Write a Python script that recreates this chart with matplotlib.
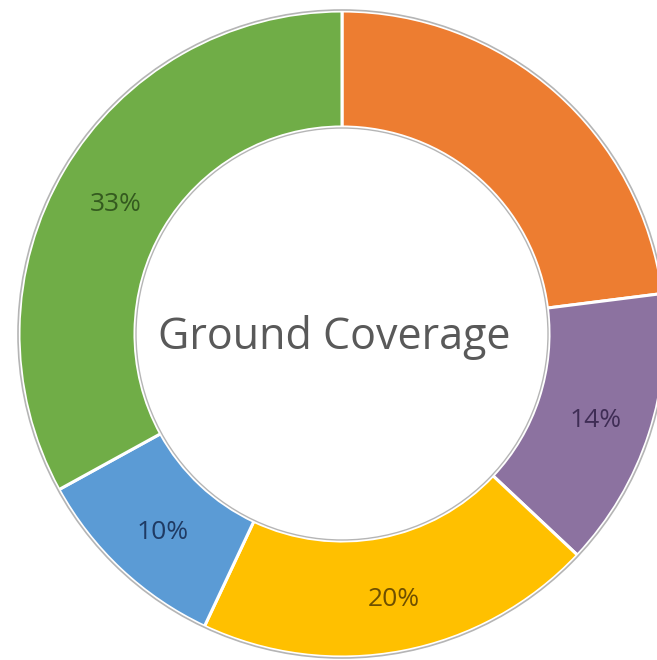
import matplotlib
matplotlib.use("Agg")
import matplotlib.pyplot as plt
from matplotlib.patches import Circle

categories = ["Orange", "Purple", "Yellow", "Blue", "Green"]
values = [23, 14, 20, 10, 33]
colors = ["#ED7D31", "#8C72A0", "#FFC000", "#5B9BD5", "#70AD47"]
label_colors = [None, "#3F2D55", "#6E4F00", "#1F3A63", "#345A1F"]
show_label = [False, True, True, True, True]
center_title = "Ground Coverage"

W, H = 657, 660
fig = plt.figure(figsize=(W / 100, H / 100), dpi=100)
ax = fig.add_axes([0, 0, 1, 1])
cx, cy = 342, 334
R_out, R_in = 323, 207

wedges, texts, autotexts = ax.pie(
    values, colors=colors, startangle=90, counterclock=False,
    radius=R_out, autopct=lambda p: f"{p:.0f}%",
    pctdistance=(R_out + R_in) / 2 / R_out,
    wedgeprops=dict(width=R_out - R_in, edgecolor="white", linewidth=2.2),
    textprops=dict(fontfamily="Open Sans", fontsize=19),
)
for t, c, s in zip(autotexts, label_colors, show_label):
    if s:
        t.set_color(c)
        x, y = t.get_position()
        t.set_position((x + 2, y - 5))
    else:
        t.set_visible(False)

ax.add_patch(Circle((0, 0), R_out + 1, fill=False, edgecolor="#B5B5B5", linewidth=1.2))
ax.add_patch(Circle((0, 0), R_in - 1, fill=False, edgecolor="#B5B5B5", linewidth=1.0))
ax.set_xlim(-cx, W - cx)
ax.set_ylim(-(H - cy), cy)
ax.set_aspect("equal")
ax.axis("off")

ax.text(-8, -4, center_title, ha="center", va="center", fontfamily="Open Sans",
        fontsize=31, color="#595959")

fig.savefig("out.png", dpi=100, facecolor="white")
